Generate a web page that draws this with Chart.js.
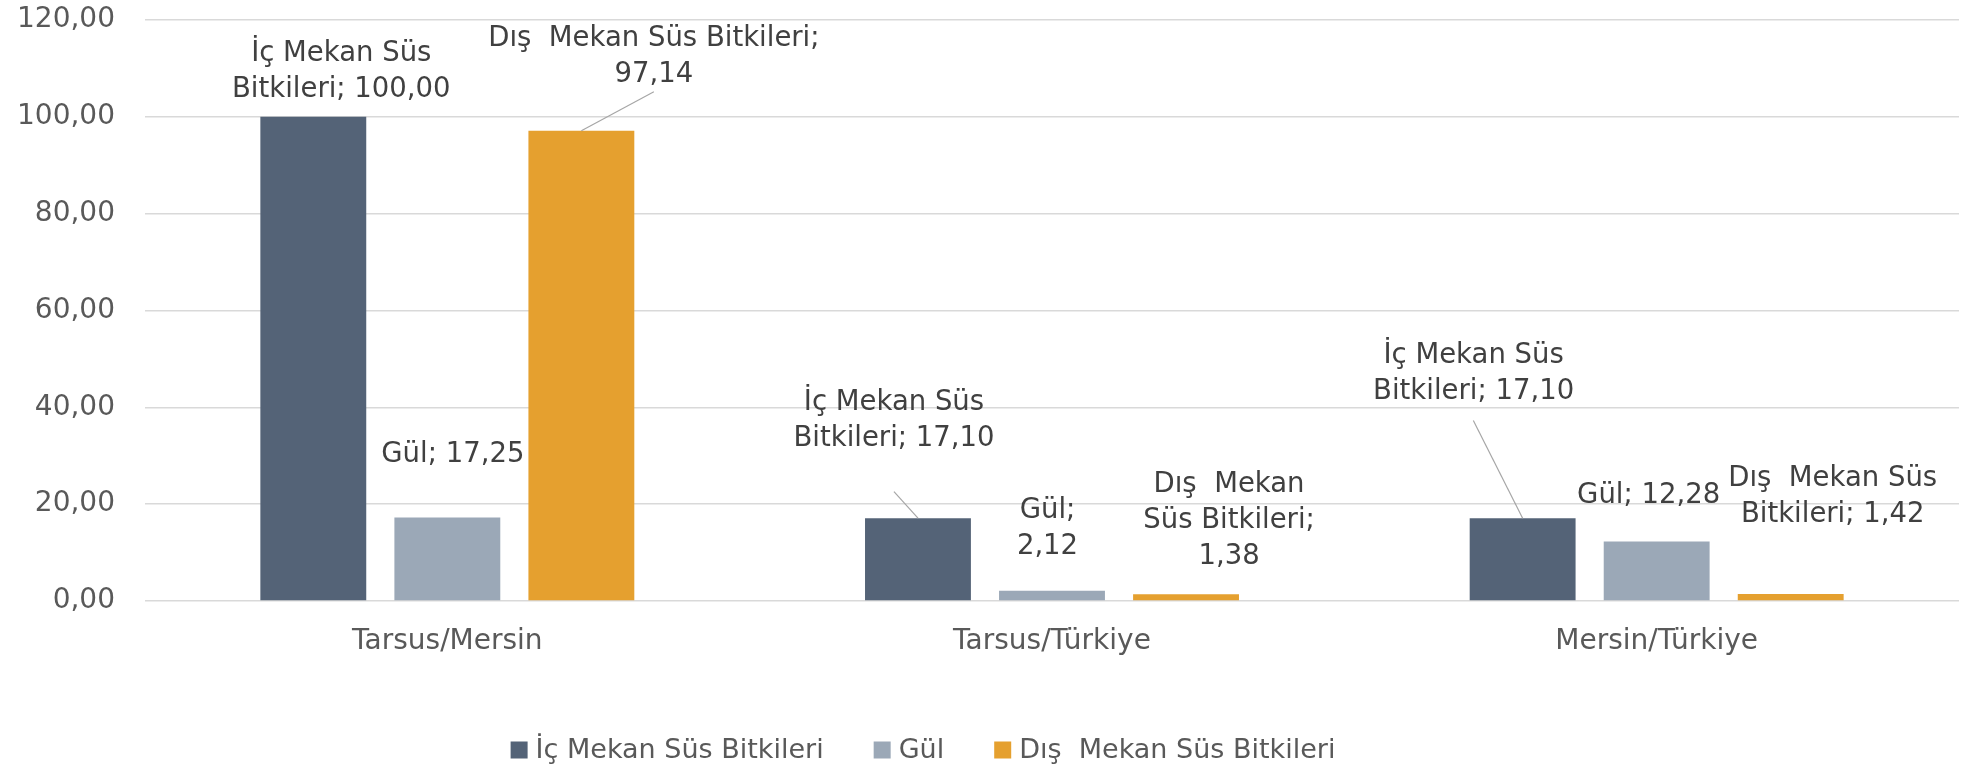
<!DOCTYPE html>
<html>
<head>
<meta charset="utf-8">
<script src="https://cdn.jsdelivr.net/npm/chart.js@4.4.1/dist/chart.umd.min.js"></script>
<style>
  html, body { margin: 0; padding: 0; background: #fff; }
  #wrap { width: 1972px; height: 769px; }
</style>
</head>
<body>
<div id="wrap"><canvas id="chart" width="1972" height="769"></canvas></div>
<script>
const categories = ['Tarsus/Mersin', 'Tarsus/Türkiye', 'Mersin/Türkiye'];
const seriesNames = ['İç Mekan Süs Bitkileri', 'Gül', 'Dış  Mekan Süs Bitkileri'];
const icMekanValues = [100.00, 17.10, 17.10];
const gulValues = [17.25, 2.12, 12.28];
const disMekanValues = [97.14, 1.38, 1.42];
const yTickValues = [0, 20, 40, 60, 80, 100, 120];

const seriesColors = ['#546377', '#9BA8B7', '#E5A02F'];
const textColor = '#595959';
const fontFamily = '"DejaVu Sans", sans-serif';

// where each data label sits, relative to the top centre of its bar (px)
// dy = baseline of the last line, leader = start point of the leader line
const labelLayout = [
    [{ dx: 28, dy: -20, wrap: 230 }, { dx: -24, dy: -72.5, wrap: 230, leader: [-24, -26.5] }, { dx: -49, dy: -119, wrap: 230, leader: [-49.3, -97.7] }],
    [{ dx: 5.5, dy: -55.5, wrap: 400 }, { dx: -4.5, dy: -36.7, wrap: 100 }, { dx: -8, dy: -39, wrap: 400 }],
    [{ dx: 72.5, dy: -49, wrap: 340, leader: [72.5, -39] }, { dx: 43, dy: -30.3, wrap: 185 }, { dx: 42, dy: -72.3, wrap: 240 }]
];
const labelLineHeight = 36;
const legendCenterX = 923;
const legendCenterY = 750;

const fmt = v => v.toFixed(2).replace('.', ',');

// greedy word wrap
function wrapText(ctx, text, maxW) {
    const words = text.split(' ');
    const lines = [];
    let cur = words[0];
    for (let i = 1; i < words.length; i++) {
        const test = cur + ' ' + words[i];
        if (ctx.measureText(test).width <= maxW) {
            cur = test;
        } else {
            lines.push(cur);
            cur = words[i];
        }
    }
    lines.push(cur);
    return lines;
}

// data labels with leader lines
const dataLabelPlugin = {
    id: 'dataLabels',
    afterDatasetsDraw(chart) {
        const ctx = chart.ctx;
        ctx.save();
        ctx.font = '27.5px ' + fontFamily;
        ctx.textAlign = 'center';
        ctx.textBaseline = 'alphabetic';
        chart.data.datasets.forEach((ds, i) => {
            const meta = chart.getDatasetMeta(i);
            meta.data.forEach((bar, j) => {
                const lay = labelLayout[i][j];
                const text = ds.label + '; ' + fmt(ds.data[j]);
                const lines = wrapText(ctx, text, lay.wrap);
                const cx = bar.x + lay.dx;
                const lastY = bar.y + lay.dy;

                if (lay.leader) {
                    ctx.strokeStyle = '#A6A6A6';
                    ctx.lineWidth = 1.2;
                    ctx.beginPath();
                    ctx.moveTo(bar.x + lay.leader[0], bar.y + lay.leader[1]);
                    ctx.lineTo(bar.x, bar.y);
                    ctx.stroke();
                }

                ctx.fillStyle = '#404040';
                lines.forEach((line, k) => {
                    const y = lastY - (lines.length - 1 - k) * labelLineHeight;
                    ctx.fillText(line, cx, y);
                });
            });
        });
        ctx.restore();
    }
};

// legend under the chart
const legendPlugin = {
    id: 'bottomLegend',
    afterDraw(chart) {
        const ctx = chart.ctx;
        ctx.save();
        ctx.font = '27px ' + fontFamily;
        ctx.textBaseline = 'middle';
        ctx.textAlign = 'left';
        const box = 17, gapText = 8, gapItem = 50;
        const items = chart.data.datasets.map(ds => ({
            text: ds.label,
            color: ds.backgroundColor,
            w: ctx.measureText(ds.label).width
        }));
        const total = items.reduce((s, it) => s + box + gapText + it.w, 0) + gapItem * (items.length - 1);
        let x = legendCenterX - total / 2;
        items.forEach(it => {
            ctx.fillStyle = it.color;
            ctx.fillRect(x, legendCenterY - box / 2, box, box);
            ctx.fillStyle = textColor;
            ctx.fillText(it.text, x + box + gapText, legendCenterY + 1);
            x += box + gapText + it.w + gapItem;
        });
        ctx.restore();
    }
};

const seriesValues = [icMekanValues, gulValues, disMekanValues];

new Chart(document.getElementById('chart'), {
    type: 'bar',
    data: {
        labels: categories,
        datasets: seriesNames.map((name, i) => ({
            label: name,
            data: seriesValues[i],
            backgroundColor: seriesColors[i],
            borderWidth: 0,
            barPercentage: 0.79,
            categoryPercentage: 0.665
        }))
    },
    options: {
        responsive: false,
        devicePixelRatio: 1,
        animation: false,
        layout: { padding: { top: 20, right: 13, left: 0, bottom: 0 } },
        plugins: {
            legend: { display: false },
            tooltip: { enabled: false }
        },
        scales: {
            x: {
                grid: { display: false },
                border: { display: false },
                ticks: {
                    color: textColor,
                    font: { family: fontFamily, size: 28 },
                    padding: 16
                },
                afterFit: s => { s.height = 168; }
            },
            y: {
                min: 0,
                max: 120,
                afterBuildTicks: s => { s.ticks = yTickValues.map(v => ({ value: v })); },
                grid: { color: '#D9D9D9', lineWidth: 1.5, drawTicks: false },
                border: { display: false },
                ticks: {
                    color: textColor,
                    font: { family: fontFamily, size: 28 },
                    padding: 30,
                    callback: v => fmt(v)
                },
                afterFit: s => {
                    s.width = 145;
                    s.paddingTop = 0;
                    s.paddingBottom = 0;
                }
            }
        }
    },
    plugins: [dataLabelPlugin, legendPlugin]
});
</script>
</body>
</html>
